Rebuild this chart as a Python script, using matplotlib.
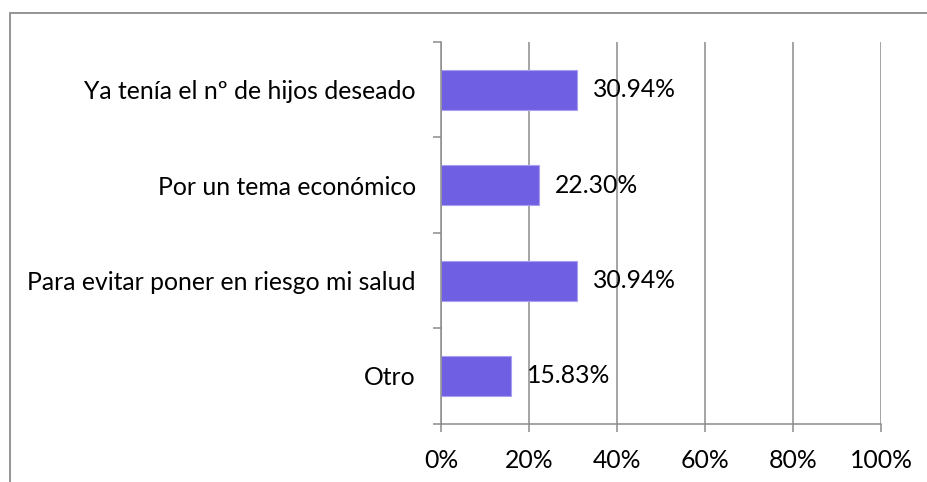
"""Horizontal bar chart: razones para no tener más hijos."""

import matplotlib.pyplot as plt
from matplotlib.patches import Rectangle
from matplotlib.ticker import FixedLocator, PercentFormatter

categories = [
    "Ya tenía el nº de hijos deseado",
    "Por un tema económico",
    "Para evitar poner en riesgo mi salud",
    "Otro",
]
values = [30.94, 22.30, 30.94, 15.83]
x_ticks = [0, 20, 40, 60, 80, 100]

BAR_COLOR = "#6F5FE2"
GRID_COLOR = "#8C8C8C"
FS = 17.8

plt.rcParams["font.family"] = ["Lato", "DejaVu Sans"]

fig = plt.figure(figsize=(9.28, 4.82), dpi=100)
ax = fig.add_axes([441 / 928, 58.3 / 482, 440 / 928, 381.7 / 482])

ypos = list(range(len(categories)))
ax.barh(ypos, values, height=0.42, color=BAR_COLOR,
        edgecolor="#A99FF0", linewidth=0.8, zorder=3)

for y, v in zip(ypos, values):
    ax.annotate(f"{v:.2f}%", xy=(v, y), xytext=(11.5, 0),
                textcoords="offset points", va="center", ha="left",
                fontsize=FS, color="black", zorder=4)

ax.set_xlim(0, 100)
ax.set_ylim(len(categories) - 0.5, -0.5)

ax.set_xticks(x_ticks)
ax.xaxis.set_major_formatter(PercentFormatter(decimals=0))
ax.set_yticks(ypos)
ax.set_yticklabels(categories)
ax.yaxis.set_minor_locator(FixedLocator([i - 0.5 for i in range(len(categories) + 1)]))

ax.tick_params(axis="x", length=6, width=1.1, color=GRID_COLOR,
               labelsize=FS, pad=12)
ax.tick_params(axis="y", which="major", length=0, labelsize=FS, pad=18)
ax.tick_params(axis="y", which="minor", length=6, width=1.1, color=GRID_COLOR)

ax.grid(axis="x", color=GRID_COLOR, linewidth=1.1, zorder=0)
ax.set_axisbelow(True)
for side in ("top", "right"):
    ax.spines[side].set_visible(False)
for side in ("left", "bottom"):
    ax.spines[side].set_color(GRID_COLOR)
    ax.spines[side].set_linewidth(1.1)
    ax.spines[side].set_zorder(5)

# chart-area border, running off the right and bottom edges
fig.patches.append(Rectangle((10 / 928, -0.2), 1.0, 1.2 - 12.5 / 482,
                             transform=fig.transFigure, fill=False,
                             edgecolor=GRID_COLOR, linewidth=1.3))

fig.savefig("out.png", dpi=100)
plt.close(fig)
